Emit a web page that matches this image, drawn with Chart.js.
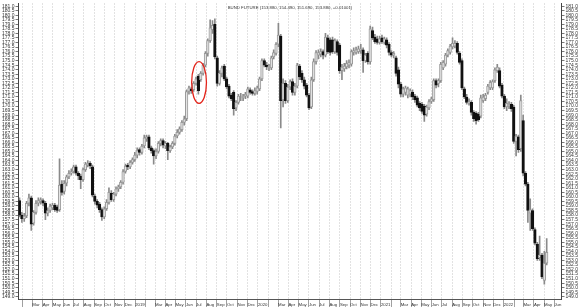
<!DOCTYPE html>
<html>
<head>
<meta charset="utf-8">
<script src="https://cdn.jsdelivr.net/npm/chart.js@4.4.1/dist/chart.umd.min.js"></script>
<style>
  html, body { margin: 0; padding: 0; background: #fff; }
</style>
</head>
<body>
<canvas id="bund" width="580" height="307"></canvas>
<script>
// semanas (lunes) a partir de la primera vela
const firstWeek = '2018-01-22';
const axisStart = '2018-01-19';
const axisEnd = '2022-06-22';
// enero muestra el año, febrero va sin texto
const monthNames = ['', '', 'Mar', 'Apr', 'May', 'Jun', 'Jul', 'Aug', 'Sep', 'Oct', 'Nov', 'Dec'];

const priceMin = 148.76;
const priceMax = 181.29;
const priceStep = 0.5;

const open = [
  159.6,158.0,157.6,157.9,159.3,159.9,157.1,158.3,159.3,159.5,
  159.6,159.3,158.2,158.5,158.8,159.1,158.9,158.6,161.4,160.6,
  161.5,162.2,162.6,162.8,163.3,162.6,162.3,161.9,163.0,163.5,
  163.7,163.3,160.1,159.5,159.2,158.6,157.8,158.7,159.4,160.4,
  159.7,160.3,160.9,161.1,161.6,162.8,163.5,163.3,163.8,164.1,
  164.6,165.2,164.9,165.6,166.4,166.6,165.4,165.1,164.5,165.0,
  165.9,166.2,165.6,165.9,165.1,165.5,165.9,166.7,167.1,167.4,
  168.2,168.6,171.6,171.9,171.8,172.5,173.3,172.9,173.6,174.5,
  175.8,177.2,178.4,179.0,175.3,172.5,173.6,174.4,173.0,172.2,
  171.2,171.5,169.8,170.4,171.0,170.9,171.1,171.1,171.8,171.6,
  171.4,171.6,171.9,173.0,175.0,174.5,174.2,174.2,175.4,175.8,
  176.8,177.7,170.7,172.5,170.6,172.1,172.7,171.5,172.2,174.4,
  173.6,172.9,172.3,171.2,169.9,172.9,174.9,175.6,175.7,176.0,
  175.6,177.5,177.3,177.3,176.0,177.1,176.7,173.9,174.1,174.3,
  174.5,174.6,175.9,175.9,176.0,176.1,176.2,175.0,175.8,174.9,
  178.3,177.6,177.4,177.0,177.5,177.0,177.3,176.8,175.9,175.6,
  175.3,174.0,172.4,171.3,171.5,171.2,171.3,171.5,171.1,170.9,
  170.3,170.2,170.0,169.1,169.8,170.5,170.7,172.8,172.5,172.8,
  174.2,174.6,175.6,175.9,176.5,176.6,176.9,175.8,175.0,171.9,
  171.0,170.3,170.4,169.3,169.2,169.1,168.9,170.6,170.8,171.5,
  172.0,172.0,172.8,173.9,173.9,172.3,171.1,169.9,170.0,170.2,
  169.9,166.1,166.6,165.3,168.4,162.6,161.4,158.2,158.5,156.4,
  154.8,153.3,153.6,150.8,152.7
];
const high = [
  159.9,158.3,158.2,159.5,160.3,160.1,158.5,159.6,159.9,159.9,
  159.8,159.5,158.8,159.2,159.3,159.3,159.1,164.2,161.8,161.8,
  162.4,162.9,163.1,163.5,163.5,162.8,162.5,163.2,163.8,164.0,
  163.9,163.5,160.3,159.7,159.4,158.8,158.9,159.7,161.0,160.7,
  160.5,161.1,161.3,161.8,163.0,163.6,163.7,164.0,164.3,164.9,
  165.4,165.4,165.8,166.8,166.8,166.8,165.6,165.3,165.3,166.1,
  166.4,166.4,166.1,166.0,165.7,166.1,166.9,167.4,167.7,168.4,
  168.9,171.8,172.2,172.1,172.7,173.2,173.5,173.8,174.7,176.0,
  177.4,179.5,179.4,179.6,175.5,173.9,174.4,174.6,173.2,172.4,
  171.4,171.7,170.6,171.3,171.4,171.3,171.5,172.1,172.0,171.8,
  172.0,172.2,173.2,175.2,175.2,174.8,174.6,175.5,176.2,177.0,
  179.1,177.9,173.0,172.8,172.4,172.9,173.0,172.5,174.7,174.6,
  173.9,173.2,172.5,171.4,173.2,175.2,176.1,176.2,176.3,176.2,
  178.0,177.8,177.5,177.6,177.4,177.3,176.9,174.6,174.7,175.0,
  175.1,176.2,176.4,176.5,176.6,176.8,176.4,175.8,176.0,178.8,
  178.7,177.9,177.7,177.7,177.8,177.6,177.5,177.0,176.1,176.0,
  175.5,174.3,172.6,172.1,172.2,172.1,171.9,171.8,171.3,171.1,
  170.5,170.4,170.2,170.1,170.7,171.0,173.0,173.0,173.0,174.8,
  175.0,175.8,176.3,176.8,177.5,177.2,177.1,176.0,175.2,172.1,
  171.3,170.8,170.6,169.5,169.4,169.3,171.2,171.3,171.4,172.4,
  172.8,172.9,174.2,174.6,174.2,172.5,171.3,170.8,170.5,170.4,
  170.1,166.9,166.8,171.2,169.0,162.8,161.6,159.8,158.7,156.6,
  155.0,155.7,153.8,154.0,155.4
];
const low = [
  157.8,157.2,157.3,157.7,159.0,156.3,156.9,158.1,159.0,159.2,
  159.0,157.5,157.9,158.3,158.6,158.4,158.3,158.4,160.2,160.3,
  161.2,162.0,162.4,162.6,162.4,161.9,160.9,161.7,162.8,163.3,
  163.1,160.0,159.2,158.8,158.3,157.4,157.6,158.5,159.2,159.5,
  159.5,160.1,160.6,160.9,161.4,162.6,163.0,163.1,163.6,163.9,
  164.3,164.6,164.7,165.4,166.1,165.2,164.8,163.6,164.2,164.8,
  165.6,165.4,165.3,164.1,164.9,165.3,165.7,166.5,166.9,167.2,
  167.9,168.4,171.3,171.4,171.6,172.3,171.3,172.7,173.4,174.3,
  175.5,177.0,178.0,175.2,172.2,172.3,173.2,172.8,171.9,170.9,
  170.6,169.0,169.5,170.2,170.6,170.6,170.8,170.9,171.3,171.2,
  171.2,171.3,171.7,172.8,174.3,174.0,173.9,174.0,175.2,175.6,
  176.5,167.6,169.9,170.3,170.4,171.8,171.2,171.2,172.0,172.9,
  172.6,171.9,171.0,169.6,169.7,172.7,174.6,175.2,175.4,175.2,
  175.4,175.8,175.6,175.8,175.8,175.6,173.6,172.9,173.8,174.1,
  174.2,174.4,175.6,175.7,175.8,175.8,173.7,174.8,174.6,174.6,
  177.3,176.9,176.8,176.8,176.9,176.8,176.4,175.6,175.4,175.3,
  173.3,172.0,171.0,171.0,171.2,170.9,171.0,170.7,170.4,169.9,
  169.5,169.2,168.3,168.9,169.6,170.3,170.5,172.0,172.1,172.6,
  174.0,174.4,175.4,175.7,176.3,176.4,175.7,174.6,171.8,170.8,
  170.2,170.1,169.0,168.3,168.0,168.3,168.7,170.4,170.6,171.3,
  171.8,171.8,172.6,173.7,172.0,170.9,169.7,169.5,169.7,169.4,
  165.9,164.5,164.9,165.0,162.3,161.2,157.2,156.3,156.3,154.7,
  153.0,153.0,151.0,150.4,152.5
];
const close = [
  158.0,157.6,157.9,159.3,159.9,157.0,158.3,159.3,159.6,159.7,
  159.3,158.2,158.5,159.0,159.1,158.6,158.5,161.3,160.5,161.5,
  162.2,162.6,162.8,163.3,162.6,162.3,161.9,163.0,163.6,163.7,
  163.4,160.2,159.5,159.1,158.6,157.8,158.7,159.4,160.5,159.7,
  160.3,160.9,161.1,161.6,162.8,163.4,163.3,163.8,164.1,164.6,
  165.1,164.9,165.6,166.5,166.6,165.4,165.1,164.5,165.0,165.9,
  166.2,165.7,165.9,165.1,165.5,165.9,166.7,167.1,167.5,168.2,
  168.6,171.6,172.0,171.7,172.5,173.0,171.7,173.6,174.5,175.8,
  177.2,178.6,178.9,175.4,172.5,173.6,174.2,173.0,172.1,171.1,
  170.8,169.7,170.4,171.1,171.0,171.1,171.3,171.9,171.5,171.4,
  171.7,172.0,173.0,175.0,174.5,174.3,174.4,175.3,175.9,176.8,
  177.8,170.6,172.5,170.6,172.1,172.7,171.5,172.2,174.5,173.2,
  172.9,172.2,171.2,169.8,172.9,174.9,175.9,175.9,176.0,175.6,
  177.6,176.0,175.9,176.0,177.2,175.9,173.9,174.3,174.4,174.7,
  174.8,176.0,176.1,176.2,176.3,176.3,175.0,175.6,174.9,178.5,
  177.5,177.1,177.0,177.4,177.1,177.4,176.7,175.9,175.6,175.8,
  173.6,172.4,171.3,171.9,172.0,171.9,171.7,171.0,170.7,170.1,
  169.8,169.4,169.0,169.9,170.5,170.8,172.8,172.3,172.8,174.6,
  174.8,175.6,176.1,176.6,176.9,176.9,175.9,174.8,172.0,171.0,
  170.4,170.5,169.3,168.6,168.4,168.5,170.9,171.0,171.2,172.2,
  172.6,172.7,174.0,174.3,172.2,171.1,169.9,170.3,170.2,169.7,
  166.1,166.7,165.2,170.6,162.6,161.4,158.5,158.6,156.5,154.9,
  153.2,153.6,151.2,152.7,153.9
];

const titleText = 'BUND FUTURE (153.880, 154.490, 151.690, 153.880, +0.01001)';
// zona marcada con la elipse roja
const highlightDate = '2019-07-10';
const highlightPrice = 172.6;
const highlightDays = 22;
const highlightSpan = 2.3;

const fuente = "'Liberation Sans', Arial, sans-serif";

function dayNumber(s) {
  return (Date.parse(s + 'T00:00:00Z') - Date.UTC(2018, 0, 1)) / 86400000;
}

function semanas() {
  const d0 = dayNumber(firstWeek);
  const arreglo = [];
  for (let k = 0; k < close.length; k++) {
    arreglo.push(d0 + 7 * k);
  }
  return arreglo;
}

function marcasMes() {
  const ini = dayNumber(axisStart), fin = dayNumber(axisEnd);
  const arreglo = [];
  for (let y = 2018; y <= 2022; y++) {
    for (let m = 0; m < 12; m++) {
      const v = (Date.UTC(y, m, 1) - Date.UTC(2018, 0, 1)) / 86400000;
      if (v >= ini && v <= fin) {
        arreglo.push({value: v, label: m === 0 ? String(y) : monthNames[m]});
      }
    }
  }
  return arreglo;
}

const dias = semanas();
const meses = marcasMes();
const etiquetas = new Map(meses.map(t => [t.value, t.label]));
const sube = k => close[k] >= open[k];

const elipse = {
  id: 'elipse',
  afterDatasetsDraw(chart) {
    const {ctx, scales} = chart;
    const d = dayNumber(highlightDate);
    const cx = scales.x.getPixelForValue(d);
    const rx = scales.x.getPixelForValue(d + highlightDays) - cx;
    const cy = scales.y.getPixelForValue(highlightPrice);
    const ry = scales.y.getPixelForValue(highlightPrice - highlightSpan) - cy;
    ctx.save();
    ctx.strokeStyle = '#e3241b';
    ctx.lineWidth = 1.3;
    ctx.beginPath();
    ctx.ellipse(cx, cy, rx, ry, 0, 0, Math.PI * 2);
    ctx.stroke();
    ctx.restore();
  }
};

const rotulo = {
  id: 'rotulo',
  afterDraw(chart) {
    const {ctx, chartArea} = chart;
    ctx.save();
    ctx.font = '4.3px ' + fuente;
    ctx.fillStyle = '#333';
    ctx.textAlign = 'center';
    ctx.textBaseline = 'middle';
    ctx.fillText(titleText, (chartArea.left + chartArea.right) / 2, chartArea.top + 4);
    ctx.restore();
  }
};

function ejeY(posicion) {
  return {
    type: 'linear',
    position: posicion,
    display: true,
    min: priceMin,
    max: priceMax,
    ticks: {
      stepSize: priceStep,
      includeBounds: false,
      autoSkip: false,
      padding: 1,
      color: '#333',
      font: {family: fuente, size: 5, lineHeight: 1},
      callback: v => v.toFixed(1)
    },
    grid: {drawOnChartArea: false, tickLength: 3, color: '#777'},
    border: {color: '#444'}
  };
}

function grafico_bund() {
  const ctx = document.getElementById('bund');
  new Chart(ctx, {
    type: 'bar',
    data: {
      datasets: [{
        label: 'cuerpo',
        data: dias.map((d, k) => ({x: d, y: [open[k], close[k]]})),
        backgroundColor: c => sube(c.dataIndex) ? '#e4e4e4' : '#111',
        borderColor: c => sube(c.dataIndex) ? '#9a9a9a' : '#111',
        borderWidth: 1,
        borderSkipped: false,
        barThickness: 2.6,
        grouped: false,
        order: 0
      },
      {
        label: 'mecha',
        data: dias.map((d, k) => ({x: d, y: [low[k], high[k]]})),
        backgroundColor: '#8a8a8a',
        borderWidth: 0,
        barThickness: 1,
        grouped: false,
        order: 1
      }]
    },
    options: {
      responsive: false,
      animation: false,
      layout: {autoPadding: false, padding: {left: 1, right: 1, top: 0, bottom: 0}},
      plugins: {legend: {display: false}, tooltip: {enabled: false}},
      scales: {
        x: {
          type: 'linear',
          min: dayNumber(axisStart),
          max: dayNumber(axisEnd),
          offset: false,
          afterBuildTicks: s => { s.ticks = meses.map(t => ({value: t.value})); },
          afterFit: s => { s.height = 8; },
          ticks: {
            autoSkip: false,
            maxRotation: 0,
            minRotation: 0,
            align: 'start',
            padding: -5,
            color: '#333',
            font: {family: fuente, size: 4.3},
            callback: v => etiquetas.get(v) || ''
          },
          grid: {color: '#c4c4c4', offset: false, tickLength: 8, tickColor: '#a0a0a0'},
          border: {color: '#555', dash: [1, 2]}
        },
        y: ejeY('left'),
        y2: ejeY('right')
      }
    },
    plugins: [elipse, rotulo]
  });
}

grafico_bund();
</script>
</body>
</html>
